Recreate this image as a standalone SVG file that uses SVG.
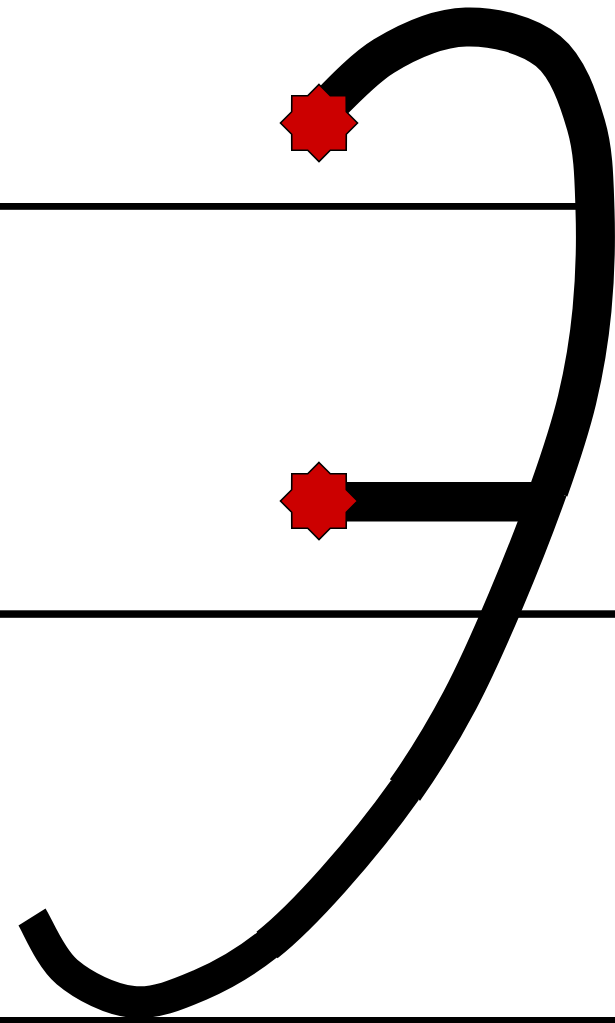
<svg xmlns="http://www.w3.org/2000/svg" width="615" height="1023" viewBox="0 0 615 1023">
<style>
.rule{fill:#000}
.ink{fill:none;stroke:#000;stroke-linecap:butt;stroke-linejoin:round}
.w1{stroke-width:39}
.w2{stroke-width:37}
.w3{stroke-width:34}
.w4{stroke-width:32}
.star{fill:#cc0000;stroke:#000;stroke-width:1.6;stroke-linejoin:miter}
</style>
<defs>
<polygon id="oct" class="star" points="0,-38.5 11.3,-27.3 27.2,-27.2 27.3,-11.3 38.5,0 27.3,11.3 27.2,27.2 11.3,27.3 0,38.5 -11.3,27.3 -27.2,27.2 -27.3,11.3 -38.5,0 -27.3,-11.3 -27.2,-27.2 -11.3,-27.3"/>
</defs>
<rect width="615" height="1023" fill="#fff"/>
<g id="rules">
<rect class="rule" x="0" y="203" width="600" height="6.8"/>
<rect class="rule" x="0" y="610.3" width="615" height="7.5"/>
<rect class="rule" x="0" y="1017" width="615" height="6"/>
</g>
<g id="letter">
<rect class="rule" x="319" y="482" width="226" height="39.5"/>
<path class="ink w4" d="M316,118 C327.3,107.7 359,71.2 384,56 C409,40.8 438.7,27.8 466,27 C493.3,26.2 528,34.7 548,51 C568,67.3 578.2,98.5 586,125 C593.8,151.5 594,179.2 595,210 C596,240.8 595,278.3 592,310 C589,341.7 584.2,370 577,400 C569.8,430 560.8,456.7 549,490 C537.2,523.3 520.8,565 506,600 C491.2,635 476.8,668.3 460,700 C443.2,731.7 426.2,760 405,790 C383.8,820 356,854.2 333,880 C310,905.8 289.2,927.5 267,945 C244.8,962.5 222.3,975.5 200,985 C177.7,994.5 155.2,1004.2 133,1002 C110.8,999.8 83.8,986.2 67,972 C50.2,957.8 37.8,926.2 32,917"/>
<path class="ink w1" d="M316,118 C327.3,107.7 359,71.2 384,56 C409,40.8 438.7,27.8 466,27 C493.3,26.2 528,34.7 548,51 C568,67.3 578.2,98.5 586,125 C593.8,151.5 594,179.2 595,210 C596,240.8 595,278.3 592,310 C589,341.7 584.2,370 577,400 C569.8,430 560.8,456.7 549,490"/>
<path class="ink w2" d="M549,490 C537.2,523.3 520.8,565 506,600 C491.2,635 476.8,668.3 460,700 C443.2,731.7 426.2,760 405,790"/>
<path class="ink w3" d="M405,790 C383.8,820 356,854.2 333,880 C310,905.8 289.2,927.5 267,945"/>
</g>
<g id="star-top"><use href="#oct" x="319" y="123"/></g>
<g id="star-mid"><use href="#oct" x="319" y="501"/></g>
</svg>
